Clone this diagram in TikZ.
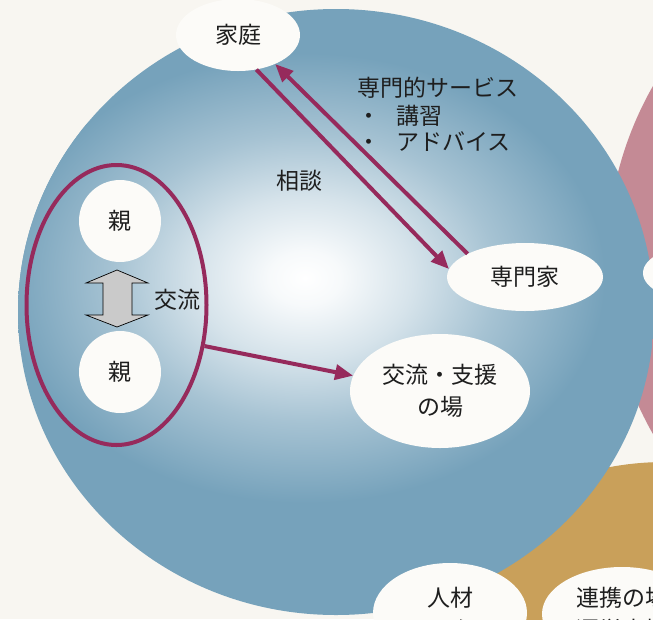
\documentclass[tikz,border=0pt]{standalone}
\usepackage{fontspec}
\newfontfamily\jp{Noto Sans CJK JP}
\usetikzlibrary{shapes.geometric,arrows.meta}
\definecolor{bgc}{HTML}{F8F6F1}
\definecolor{bluec}{HTML}{76A2BB}
\definecolor{pinkc}{HTML}{C48A95}
\definecolor{tanc}{HTML}{C9A05A}
\definecolor{crim}{HTML}{962A5C}
\definecolor{nodec}{HTML}{FCFBF8}
\definecolor{txtc}{HTML}{1E1E1E}
\definecolor{grayc}{HTML}{CACACA}
\pgfdeclareradialshading{glow}{\pgfpoint{0bp}{0bp}}{color(0bp)=(white); color(3bp)=(bluec!6!white); color(9bp)=(bluec!30!white); color(16bp)=(bluec!65!white); color(25bp)=(bluec); color(50bp)=(bluec)}
\begin{document}
\begin{tikzpicture}[x=1pt,y=-1pt,
  txt/.style={font=\jp\fontsize{23pt}{32pt}\selectfont, text=txtc, align=center},
  blob/.style={ellipse, fill=nodec, inner sep=0pt, txt},
  conn/.style={draw=crim, line width=4pt, -{Triangle[length=18pt,width=15pt]}},
]
\useasboundingbox (0,0) rectangle (653,619);
\clip (0,0) rectangle (653,619);
\fill[bgc] (0,0) rectangle (653,619);
% neighbouring circles
\fill[pinkc] (959,260) circle[radius=352pt];
\fill[tanc] (665,762) circle[radius=300pt];
% main blue circle with glow
\begin{scope}
  \clip (336,312) ellipse[x radius=318pt, y radius=303pt];
  \fill[bluec] (0,0) rectangle (653,619);
  \shade[shading=glow] (305,278) ellipse[x radius=300pt, y radius=225pt];
\end{scope}

% white nodes
\node[blob, minimum width=124pt, minimum height=72pt] (katei) at (238,35) {家庭};
\node[blob, minimum width=156pt, minimum height=68pt] (senmonka) at (525,277) {専門家};
\node[blob, minimum width=180pt, minimum height=114pt] (koryu) at (440,391) {交流・支援\\の場};
\node[circle, fill=nodec, minimum size=82pt, inner sep=0pt, txt] (oya1) at (120,221) {親};
\node[circle, fill=nodec, minimum size=82pt, inner sep=0pt, txt] (oya2) at (120,372) {親};
\node[blob, minimum width=154pt, minimum height=100pt] (jinzai) at (450,613) {人材\\センター};
\node[blob, minimum width=160pt, minimum height=94pt] (renkei) at (622,614) {連携の場\\運営支援};
\node[ellipse, fill=nodec, minimum width=114pt, minimum height=56pt, inner sep=0pt] (pinknode) at (700,273) {};

% group ring
\node[ellipse, draw=crim, line width=4pt, minimum width=180pt, minimum height=280pt, inner sep=0pt] (ring) at (116.5,305) {};

% labels
\node[txt, anchor=west, inner sep=0pt] (serv) at (357,88) {専門的サービス};
\node[txt, anchor=west, inner sep=0pt] (kosyu) at (357,116) {・\hspace{16pt}講習};
\node[txt, anchor=west, inner sep=0pt] (advice) at (357,142) {・\hspace{16pt}アドバイス};
\node[txt, inner sep=0pt] (sodan) at (299,181) {相談};
\node[txt, inner sep=0pt] (korlbl) at (177,300) {交流};

% exchange double arrow
\draw[black, line width=0.7pt, fill=grayc] (117,270) -- (148,283) -- (132,283) -- (132,315) -- (148,315) -- (117,327) -- (86,315) -- (103,315) -- (103,283) -- (86,283) -- cycle;

% connectors
\draw[conn] (katei.-62) -- (senmonka.174);
\draw[conn] (senmonka.158) -- (katei.-38.5);
\draw[conn] (ring.-25) -- (koryu.170);
\end{tikzpicture}
\end{document}
